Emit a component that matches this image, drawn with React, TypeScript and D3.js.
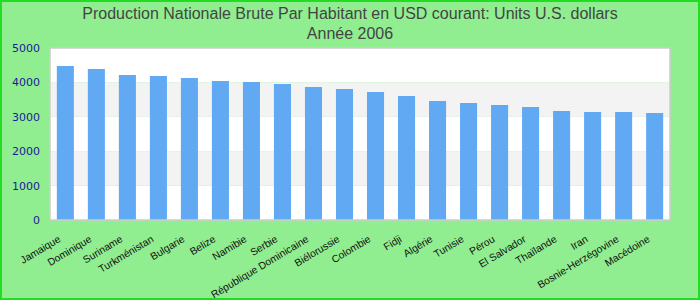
import React from "react";
import * as d3 from "d3";

const categories = [
  "Jamaique", "Dominique", "Suriname", "Turkménistan", "Bulgarie", "Belize",
  "Namibie", "Serbie", "République Dominicaine", "Biélorussie", "Colombie",
  "Fidji", "Algérie", "Tunisie", "Pérou", "El Salvador", "Thaïlande", "Iran",
  "Bosnie-Herzégovine", "Macédoine",
];
const values = [
  4477, 4390, 4215, 4186, 4128, 4041, 4012, 3953, 3866, 3808, 3721,
  3605, 3459, 3401, 3343, 3285, 3169, 3140, 3140, 3110,
];
const yTicks = [0, 1000, 2000, 3000, 4000, 5000];
const titleLines = [
  "Production Nationale Brute Par Habitant en USD courant: Units U.S. dollars",
  "Année 2006",
];

export default function App() {
  const W = 700, H = 300;
  const left = 50, right = 670, top = 48, bottom = 220;
  const x = d3.scaleBand<string>().domain(categories).range([left, right]).paddingInner(0.45).paddingOuter(0.22);
  const y = d3.scaleLinear().domain([0, 5000]).range([bottom, top]);
  const bands = yTicks.slice(0, -1).map((t, i) => ({ lo: t, hi: yTicks[i + 1], i }));
  return (
    <svg width={W} height={H} style={{ position: "absolute", left: 0, top: 0 }}>
      <rect x={1} y={1} width={W - 2} height={H - 2} fill="#90EE90" stroke="#22dd22" strokeWidth={2} />
      {titleLines.map((t, i) => (
        <text key={i} x={350} y={19 + i * 20} textAnchor="middle" fontFamily="Liberation Sans, Arial, sans-serif" fontSize={16} fill="#444">
          {t}
        </text>
      ))}
      {bands.map((b) => (
        <rect key={b.i} x={left} y={y(b.hi)} width={right - left} height={y(b.lo) - y(b.hi)} fill={b.i % 2 === 1 ? "#f3f3f3" : "#ffffff"} />
      ))}
      {categories.map((c, i) => (
        <rect key={c} x={x(c)} y={y(values[i])} width={x.bandwidth()} height={bottom - y(values[i])} fill="#62a9f4" />
      ))}
      <rect x={left} y={top} width={right - left} height={bottom - top} fill="none" stroke="#cccccc" strokeWidth={1.5} />
      {yTicks.map((t) => (
        <text key={t} x={40} y={y(t) + 4} textAnchor="end" fontFamily="DejaVu Sans, sans-serif" fontSize={11} fill="#1a1a99">
          {t}
        </text>
      ))}
      {categories.map((c) => {
        const cx = (x(c) as number) + x.bandwidth() / 2 - 4;
        const cy = 241;
        return (
          <text key={c} x={cx} y={cy} textAnchor="end" transform={`rotate(-31 ${cx} ${cy})`} fontFamily="Liberation Sans, Arial, sans-serif" fontSize={10.3} fill="#111">
            {c}
          </text>
        );
      })}
    </svg>
  );
}
